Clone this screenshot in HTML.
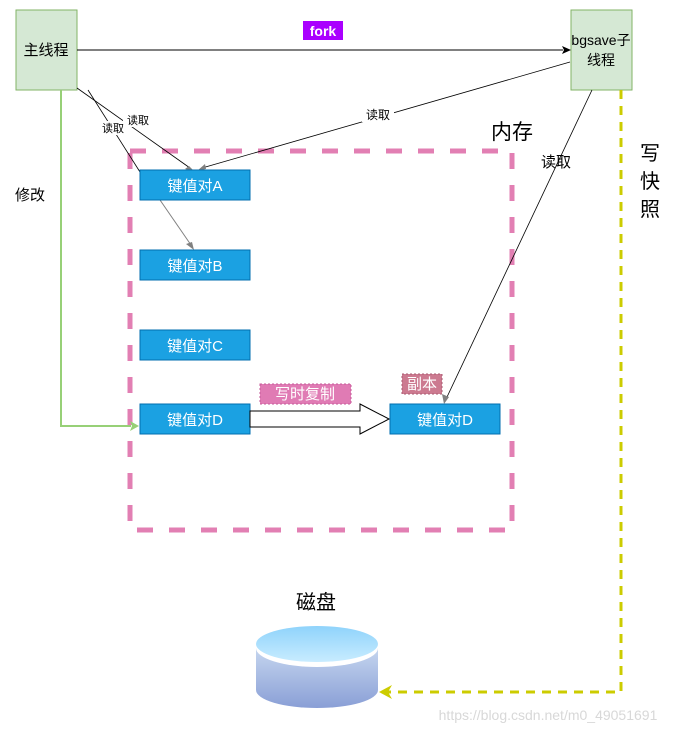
<!DOCTYPE html>
<html><head><meta charset="utf-8"><style>
body{margin:0;background:#fff;}
svg text{font-family:"Liberation Sans","Noto Sans CJK SC",sans-serif;}
</style></head><body>
<svg width="681" height="734" viewBox="0 0 681 734" xmlns="http://www.w3.org/2000/svg">
<defs>
<linearGradient id="cb" x1="0" y1="0" x2="0" y2="1"><stop offset="0" stop-color="#c6d6ef"/><stop offset="1" stop-color="#8a9fd6"/></linearGradient>
<linearGradient id="ct" x1="0" y1="0" x2="0" y2="1"><stop offset="0" stop-color="#8fd3fb"/><stop offset="1" stop-color="#c8ecff"/></linearGradient>
</defs>
<!-- memory dashed rect -->
<rect x="130" y="151" width="382" height="379" fill="none" stroke="#e27fb3" stroke-width="5" stroke-dasharray="16,16"/>
<!-- boxes -->
<rect x="16" y="10" width="61" height="80" fill="#d5e8d4" stroke="#82b366"/>
<text x="46" y="55" font-size="15" text-anchor="middle">主线程</text>
<rect x="571" y="10" width="61" height="80" fill="#d5e8d4" stroke="#82b366"/>
<text x="601" y="45" font-size="14" text-anchor="middle">bgsave子</text>
<text x="601" y="65" font-size="14" text-anchor="middle">线程</text>
<!-- fork -->
<line x1="77" y1="50" x2="563" y2="50" stroke="#000"/>
<polygon points="571,50 562,46 564,50 562,54" fill="#000"/>
<rect x="303" y="21" width="40" height="19" fill="#aa00ff"/>
<text x="323" y="36" font-size="14" font-weight="bold" fill="#fff" text-anchor="middle">fork</text>
<!-- green modify -->
<polyline points="61,90 61,426 131,426" fill="none" stroke="#97d077" stroke-width="2"/>
<polygon points="139,426 130,421 132,426 130,431" fill="#97d077"/>
<text x="30" y="200" font-size="15" text-anchor="middle">修改</text>
<!-- read lines -->
<line x1="77" y1="88" x2="190" y2="168" stroke="#000" stroke-width="0.8"/>
<polygon points="195,172 185,169 189,166" fill="#808080"/>
<line x1="88" y1="90" x2="140" y2="172" stroke="#000" stroke-width="0.8"/>
<rect x="123" y="113" width="30" height="14" fill="#fff"/><text x="138" y="124" font-size="11" text-anchor="middle">读取</text>
<rect x="99" y="121" width="28" height="14" fill="#fff"/><text x="113" y="132" font-size="11" text-anchor="middle">读取</text>
<line x1="570" y1="62" x2="202" y2="168" stroke="#000" stroke-width="0.8"/>
<polygon points="197,171 205,164 206,169" fill="#808080"/>
<rect x="362" y="108" width="32" height="14" fill="#fff"/><text x="378" y="119" font-size="12" text-anchor="middle">读取</text>
<line x1="160" y1="200" x2="191" y2="245" stroke="#808080"/>
<polygon points="194,250 186,244 192,242" fill="#808080"/>
<line x1="592" y1="90" x2="447" y2="397" stroke="#000" stroke-width="0.8"/>
<polygon points="444,404 442,394 449,397" fill="#808080"/>
<text x="556" y="167" font-size="15" text-anchor="middle">读取</text>
<text x="512" y="139" font-size="21" text-anchor="middle">内存</text>
<!-- kv boxes -->
<g font-size="15" fill="#fff" text-anchor="middle">
<rect x="140" y="170" width="110" height="30" fill="#1ba1e2" stroke="#006eaf"/><text x="195" y="191">键值对A</text>
<rect x="140" y="250" width="110" height="30" fill="#1ba1e2" stroke="#006eaf"/><text x="195" y="271">键值对B</text>
<rect x="140" y="330" width="110" height="30" fill="#1ba1e2" stroke="#006eaf"/><text x="195" y="351">键值对C</text>
<rect x="140" y="404" width="110" height="30" fill="#1ba1e2" stroke="#006eaf"/><text x="195" y="425">键值对D</text>
<rect x="390" y="404" width="110" height="30" fill="#1ba1e2" stroke="#006eaf"/><text x="445" y="425">键值对D</text>
</g>
<!-- hollow arrow -->
<polygon points="250,411 360,411 360,404 389,419 360,434 360,427 250,427" fill="#fff" stroke="#000"/>
<rect x="260" y="384" width="91" height="20" fill="#e07bb4" stroke="#c65a9a" stroke-dasharray="2,2"/>
<text x="305" y="399" font-size="15" fill="#fff" text-anchor="middle">写时复制</text>
<rect x="402" y="374" width="40" height="20" fill="#cc7a90" stroke="#a85a70" stroke-dasharray="2,2"/>
<text x="422" y="389" font-size="15" fill="#fff" text-anchor="middle">副本</text>
<!-- yellow snapshot -->
<polyline points="621,90 621,692 388,692" fill="none" stroke="#cccc00" stroke-width="3" stroke-dasharray="9,7"/>
<polygon points="379,692 392,685 388,692 392,699" fill="#cccc00"/>
<g font-size="20" text-anchor="middle"><text x="650" y="160">写</text><text x="650" y="188">快</text><text x="650" y="216">照</text></g>
<!-- disk -->
<text x="316" y="609" font-size="20" text-anchor="middle">磁盘</text>
<path d="M256,648 L256,690 A61,18 0 0 0 378,690 L378,648 Z" fill="url(#cb)"/>
<ellipse cx="317" cy="648" rx="61" ry="19" fill="#fff"/>
<ellipse cx="317" cy="644" rx="61" ry="18" fill="url(#ct)"/>
<text x="548" y="720" font-size="14" fill="#d8d8d8" text-anchor="middle">https://blog.csdn.net/m0_49051691</text>
</svg>
</body></html>
